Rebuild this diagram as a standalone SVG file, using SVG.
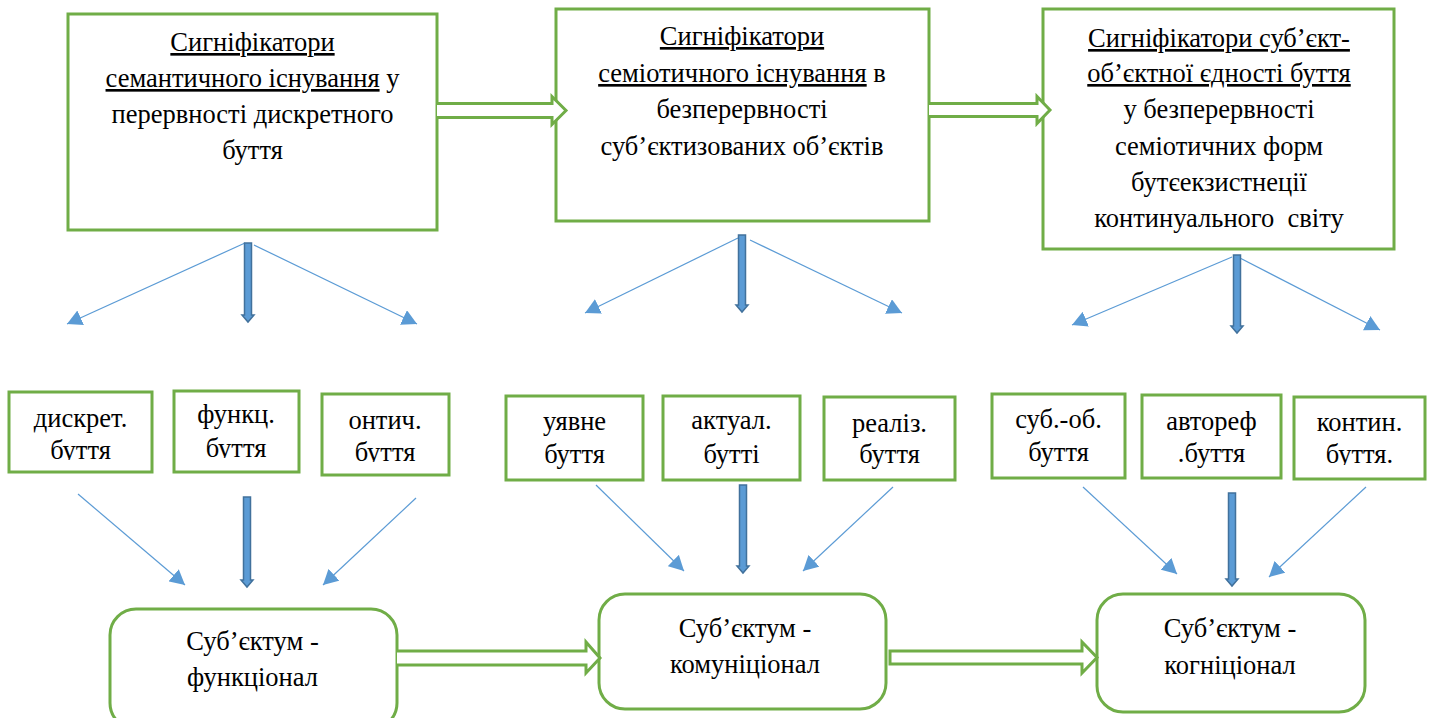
<svg xmlns="http://www.w3.org/2000/svg" width="1431" height="718" viewBox="0 0 1431 718">
<style>
.tx{font-family:'Liberation Serif',serif;font-size:26.5px;fill:#000;text-anchor:middle}
.box{fill:#fff;stroke:#70ad47;stroke-width:3}
.hollow{fill:#fff;stroke:#70ad47;stroke-width:3;stroke-linejoin:miter}
.thin{stroke:#5b9bd5;stroke-width:1.2;fill:none;marker-end:url(#tri)}
.block{fill:#5b9bd5;stroke:#41719c;stroke-width:1.5}
</style>
<defs>
<marker id="tri" markerUnits="userSpaceOnUse" markerWidth="16" markerHeight="16" refX="15" refY="8" orient="auto" viewBox="0 0 16 16">
<path d="M0,0 L15,8 L0,16 z" fill="#5b9bd5"/>
</marker>
<clipPath id="c1"><rect x="0" y="380" width="160" height="80"/></clipPath>
<clipPath id="c2"><rect x="170" y="380" width="135" height="78"/></clipPath>
<clipPath id="c3"><rect x="318" y="380" width="135" height="82"/></clipPath>
<clipPath id="c9"><rect x="1290" y="380" width="141" height="85"/></clipPath>
</defs>

<g id="sig1">
<rect class="box" x="68" y="14" width="369" height="216"/>
<g class="tx">
<text x="252.5" y="51"><tspan text-decoration="underline">Сигніфікатори</tspan></text>
<text x="252.5" y="87"><tspan text-decoration="underline">семантичного існування</tspan> у</text>
<text x="252.5" y="123">перервності дискретного</text>
<text x="252.5" y="159">буття</text>
</g>
</g>

<g id="sig2">
<rect class="box" x="556" y="9" width="373" height="212"/>
<g class="tx">
<text x="742" y="45"><tspan text-decoration="underline">Сигніфікатори</tspan></text>
<text x="742" y="82"><tspan text-decoration="underline">семіотичного існування</tspan> в</text>
<text x="742" y="118">безперервності</text>
<text x="742" y="155">суб’єктизованих об’єктів</text>
</g>
</g>

<g id="sig3">
<rect class="box" x="1043" y="9" width="351" height="240"/>
<g class="tx">
<text x="1219" y="47"><tspan text-decoration="underline">Сигніфікатори суб’єкт-</tspan></text>
<text x="1219" y="82"><tspan text-decoration="underline">об’єктної єдності буття</tspan></text>
<text x="1219" y="118">у безперервності</text>
<text x="1219" y="155">семіотичних форм</text>
<text x="1219" y="191">бутєекзистнеції</text>
<text x="1219" y="227">континуального&#160; світу</text>
</g>
</g>

<g id="b1">
<rect class="box" x="9" y="392" width="143" height="80"/>
<g clip-path="url(#c1)"><g class="tx"><text x="80.5" y="427">дискрет.</text><text x="80.5" y="459">буття</text></g></g>
</g>
<g id="b2">
<rect class="box" x="174" y="391" width="125" height="81"/>
<g clip-path="url(#c2)"><g class="tx"><text x="236" y="423">функц.</text><text x="236" y="457">буття</text></g></g>
</g>
<g id="b3">
<rect class="box" x="322" y="394" width="127" height="81"/>
<g clip-path="url(#c3)"><g class="tx"><text x="385" y="429">онтич.</text><text x="385" y="461">буття</text></g></g>
</g>
<g id="b4">
<rect class="box" x="506" y="396" width="137" height="84"/>
<g class="tx"><text x="574.5" y="430">уявне</text><text x="574.5" y="463">буття</text></g>
</g>
<g id="b5">
<rect class="box" x="663" y="396" width="137" height="84"/>
<g class="tx"><text x="731.5" y="429">актуал.</text><text x="731.5" y="463">бутті</text></g>
</g>
<g id="b6">
<rect class="box" x="824" y="397" width="131" height="83"/>
<g class="tx"><text x="889.5" y="432">реаліз.</text><text x="889.5" y="463">буття</text></g>
</g>
<g id="b7">
<rect class="box" x="992" y="394" width="133" height="84"/>
<g class="tx"><text x="1058.5" y="428">суб.-об.</text><text x="1058.5" y="461">буття</text></g>
</g>
<g id="b8">
<rect class="box" x="1142" y="395" width="139" height="83"/>
<g class="tx"><text x="1211.5" y="430">автореф</text><text x="1211.5" y="462">.буття</text></g>
</g>
<g id="b9">
<rect class="box" x="1294" y="397" width="131" height="82"/>
<g clip-path="url(#c9)"><g class="tx"><text x="1359.5" y="431">контин.</text><text x="1359.5" y="463">буття.</text></g></g>
</g>

<g id="s1">
<rect class="box" x="110" y="609" width="287" height="120" rx="26"/>
<g class="tx">
<text x="252.5" y="650">Суб’єктум -</text>
<text x="252.5" y="686">функціонал</text>
</g>
</g>
<g id="s2">
<rect class="box" x="599" y="594" width="287" height="115" rx="26"/>
<g class="tx">
<text x="745" y="637">Суб’єктум -</text>
<text x="745" y="673">комуніціонал</text>
</g>
</g>
<g id="s3">
<rect class="box" x="1097" y="594" width="268" height="118" rx="26"/>
<g class="tx">
<text x="1230" y="637">Суб’єктум -</text>
<text x="1230" y="674">когніціонал</text>
</g>
</g>

<g id="connectors">
<path class="hollow" d="M437,103.5 H552 V96.5 L566,110.5 L552,124.5 V117.5 H437"/>
<path class="hollow" d="M929,103.5 H1037 V96.5 L1050,110 L1037,123.5 V116.5 H929"/>
<path class="hollow" d="M397,651 H586 V642 L600,658 L586,673 V665 H397"/>
<path class="hollow" d="M890,651 H1082 V642 L1097,657.5 L1082,673 V664 H890 Z"/>

<line class="thin" x1="245" y1="243" x2="67" y2="324"/>
<line class="thin" x1="254" y1="245" x2="417" y2="324"/>
<path class="block" d="M244.5,243 H251.5 V315 H254 L248,322 L242,315 H244.5 Z"/>

<line class="thin" x1="738" y1="238" x2="585" y2="313"/>
<line class="thin" x1="750" y1="240" x2="902" y2="313"/>
<path class="block" d="M738.5,235 H745.5 V305 H748 L742,312 L736,305 H738.5 Z"/>

<line class="thin" x1="1232" y1="257" x2="1072" y2="325"/>
<line class="thin" x1="1238" y1="257" x2="1380" y2="330"/>
<path class="block" d="M1233.5,255 H1240.5 V326 H1243 L1237,333 L1231,326 H1233.5 Z"/>

<line class="thin" x1="78" y1="494" x2="185" y2="585"/>
<line class="thin" x1="416" y1="498" x2="323" y2="585"/>
<path class="block" d="M243.5,497 H250.5 V580 H253 L247,587 L241,580 H243.5 Z"/>

<line class="thin" x1="596" y1="485" x2="684" y2="571"/>
<line class="thin" x1="893" y1="487" x2="803" y2="571"/>
<path class="block" d="M739.5,485 H746.5 V566 H749 L743,573 L737,566 H739.5 Z"/>

<line class="thin" x1="1083" y1="487" x2="1177" y2="574"/>
<line class="thin" x1="1366" y1="487" x2="1269" y2="577"/>
<path class="block" d="M1228.5,493 H1235.5 V579 H1238 L1232,586 L1226,579 H1228.5 Z"/>
</g>
</svg>
